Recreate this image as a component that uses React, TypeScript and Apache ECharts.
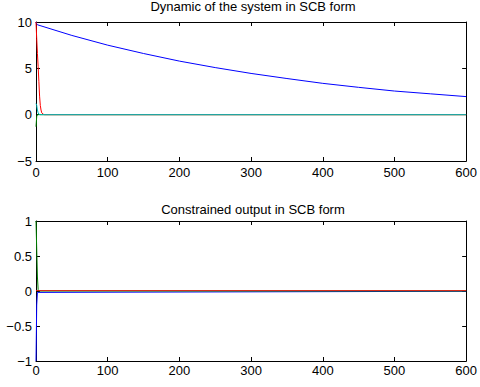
import React, { useEffect, useRef } from "react";
import * as echarts from "echarts";

// ---- data ----
const titles = ["Dynamic of the system in SCB form", "Constrained output in SCB form"];
const xTicks = [0, 100, 200, 300, 400, 500, 600];
const topYTicks = [-5, 0, 5, 10];
const botYTicks = [-1, -0.5, 0, 0.5, 1];

// top panel
const topBlueT = [0, 1, 2, 50, 100, 150, 200, 250, 300, 350, 400, 450, 500, 550, 600];
const topBlueV = [10, 9.8, 9.7, 8.55, 7.5, 6.6, 5.78, 5.08, 4.45, 3.9, 3.38, 2.95, 2.55, 2.25, 1.95];
const topRedT = [0, 1, 2, 3, 4, 5, 6, 7, 8, 10, 12, 600];
const topRedV = [10, 8.2, 6.6, 5.2, 3.6, 2.0, 1.0, 0.5, 0.2, 0.05, 0, 0];
const topGreenT = [0, 1, 2, 600];
const topGreenV = [-1.3, -0.2, 0, 0];
const topCyanT = [0, 1, 2, 3, 4, 6, 600];
const topCyanV = [1.2, 1.0, 0.5, 0.2, 0.05, 0, 0];

// bottom panel
const botBlueT = [0, 1, 2, 600];
const botBlueV = [-1, -0.2, -0.02, -0.004];
const botGreenT = [0, 1, 2, 3, 4, 600];
const botGreenV = [1, 0.6, 0.2, 0.02, 0, 0];
const botRedT = [0, 600];
const botRedV = [0.006, 0.006];

const zip = (t: number[], v: number[]) => t.map((x, i) => [x, v[i]]);

const FONT = "Liberation Sans";
const FS = 13;
const fmt = (v: number) => String(v).replace("-", "\u2212");

export default function App() {
  const ref = useRef<HTMLDivElement>(null);
  useEffect(() => {
    if (!ref.current) return;
    const chart = echarts.init(ref.current, undefined, { renderer: "svg" });
    const grids = [
      { left: 36, right: 10, top: 22, height: 139 },
      { left: 36, right: 10, top: 221, height: 140 },
    ];
    const axisLine = { show: true, onZero: false, lineStyle: { color: "#000", width: 1 } };
    const axisTick = { show: true, inside: true, length: 4, lineStyle: { color: "#000", width: 1 } };
    const label = { color: "#000", fontFamily: FONT, fontSize: FS };
    const xAxes: any[] = [];
    const yAxes: any[] = [];
    const yRanges = [
      { min: -5, max: 10, interval: 5, ticks: topYTicks },
      { min: -1, max: 1, interval: 0.5, ticks: botYTicks },
    ];
    [0, 1].forEach((g) => {
      xAxes.push({
        type: "value", gridIndex: g, min: xTicks[0], max: xTicks[xTicks.length - 1], interval: 100,
        position: "bottom", axisLine, axisTick, splitLine: { show: false },
        axisLabel: { ...label, margin: g === 0 ? 5 : 3, formatter: fmt },
      });
      xAxes.push({
        type: "value", gridIndex: g, min: 0, max: 600, interval: 100,
        position: "top", axisLine, axisTick, splitLine: { show: false }, axisLabel: { show: false },
      });
      const r = yRanges[g];
      yAxes.push({
        type: "value", gridIndex: g, min: r.min, max: r.max, interval: r.interval,
        position: "left", axisLine, axisTick, splitLine: { show: false },
        axisLabel: { ...label, margin: 4, formatter: fmt },
      });
      yAxes.push({
        type: "value", gridIndex: g, min: r.min, max: r.max, interval: r.interval,
        position: "right", axisLine, axisTick, splitLine: { show: false }, axisLabel: { show: false },
      });
    });
    const line = (data: number[][], color: string, xi: number, yi: number) => ({
      type: "line", data, xAxisIndex: xi, yAxisIndex: yi, showSymbol: false, symbol: "none",
      lineStyle: { color, width: 1 }, silent: true,
    });
    chart.setOption({
      animation: false,
      grid: grids,
      xAxis: xAxes,
      yAxis: yAxes,
      graphic: [
        { type: "text", x: 253, y: 6, style: { text: titles[0], fill: "#000", font: `${FS}px "${FONT}"`, textAlign: "center", textVerticalAlign: "middle" } },
        { type: "text", x: 253, y: 209, style: { text: titles[1], fill: "#000", font: `${FS}px "${FONT}"`, textAlign: "center", textVerticalAlign: "middle" } },
      ],
      series: [
        line(zip(topBlueT, topBlueV), "#0000ff", 0, 0),
        line(zip(topGreenT, topGreenV), "#008000", 0, 0),
        line(zip(topRedT, topRedV), "#ff0000", 0, 0),
        line(zip(topCyanT, topCyanV), "#00bfbf", 0, 0),
        line(zip(botBlueT, botBlueV), "#0000ff", 2, 2),
        line(zip(botGreenT, botGreenV), "#008000", 2, 2),
        line(zip(botRedT, botRedV), "#dd2211", 2, 2),
      ],
    });
    return () => chart.dispose();
  }, []);
  return <div ref={ref} style={{ width: 480, height: 387, position: "absolute", left: 0, top: 0 }} />;
}
